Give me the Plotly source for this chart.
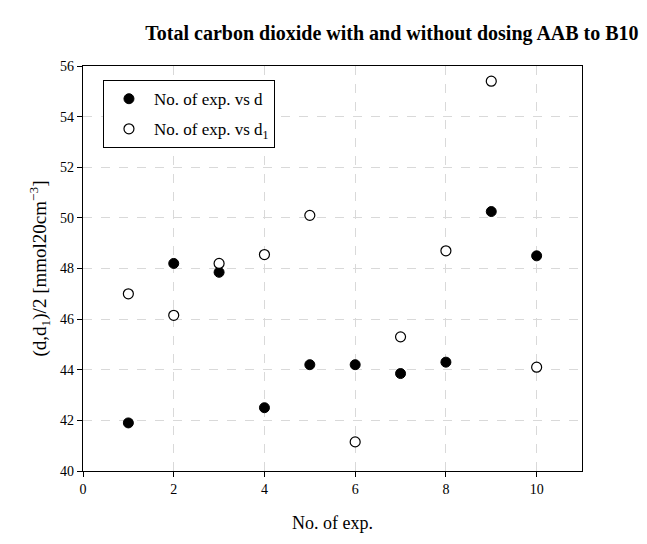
import plotly.graph_objects as go

exp_no = [1, 2, 3, 4, 5, 6, 7, 8, 9, 10]
d_vals = [41.9, 48.2, 47.85, 42.5, 44.2, 44.2, 43.85, 44.3, 50.25, 48.5]
d1_vals = [47.0, 46.15, 48.2, 48.55, 50.1, 41.15, 45.3, 48.7, 55.4, 44.1]

FONT = "Liberation Serif"

fig = go.Figure()
fig.add_trace(go.Scatter(x=exp_no, y=d_vals, mode="markers", name="No. of exp. vs d",
                         legendgroup="a",
                         marker=dict(size=10, color="black", line=dict(color="black", width=1))))
fig.add_trace(go.Scatter(x=exp_no, y=d1_vals, mode="markers", name="No. of exp. vs d<sub>1</sub>",
                         legendgroup="b",
                         marker=dict(size=10, color="white", line=dict(color="black", width=1.2))))

axis_common = dict(showline=True, linecolor="black", linewidth=1.2, mirror=True,
                   ticks="outside", ticklen=5, tickcolor="black",
                   showgrid=True, gridcolor="#d9d9d9", griddash="dash", gridwidth=1,
                   zeroline=False, tickfont=dict(family=FONT, size=14, color="black"))

fig.update_layout(
    width=647, height=544,
    margin=dict(l=83, r=65, t=66, b=73),
    paper_bgcolor="white", plot_bgcolor="white",
    font=dict(family=FONT, color="black"),
    title=dict(text="<b>Total carbon dioxide with and without dosing AAB to B10</b>",
               x=392/647, xanchor="center", y=1-33/544, yanchor="middle",
               font=dict(family=FONT, size=20, color="black")),
    xaxis=dict(range=[0, 11], tickvals=[0, 2, 4, 6, 8, 10],
               title=dict(text="No. of exp.", font=dict(family=FONT, size=18), standoff=20),
               **axis_common),
    yaxis=dict(range=[40, 56], tickvals=[40, 42, 44, 46, 48, 50, 52, 54, 56],
               title=dict(text="(d,d<sub>1</sub>)/2 [mmol20cm<sup>−3</sup>]", font=dict(family=FONT, size=19), standoff=8),
               **axis_common),
    legend=dict(x=0.04, y=0.965, xanchor="left", yanchor="top",
                bordercolor="black", borderwidth=1, bgcolor="white",
                font=dict(family=FONT, size=17, color="black"),
                traceorder="grouped", tracegroupgap=5,
                itemwidth=40),
    showlegend=True,
)

fig.write_html("out.html")
